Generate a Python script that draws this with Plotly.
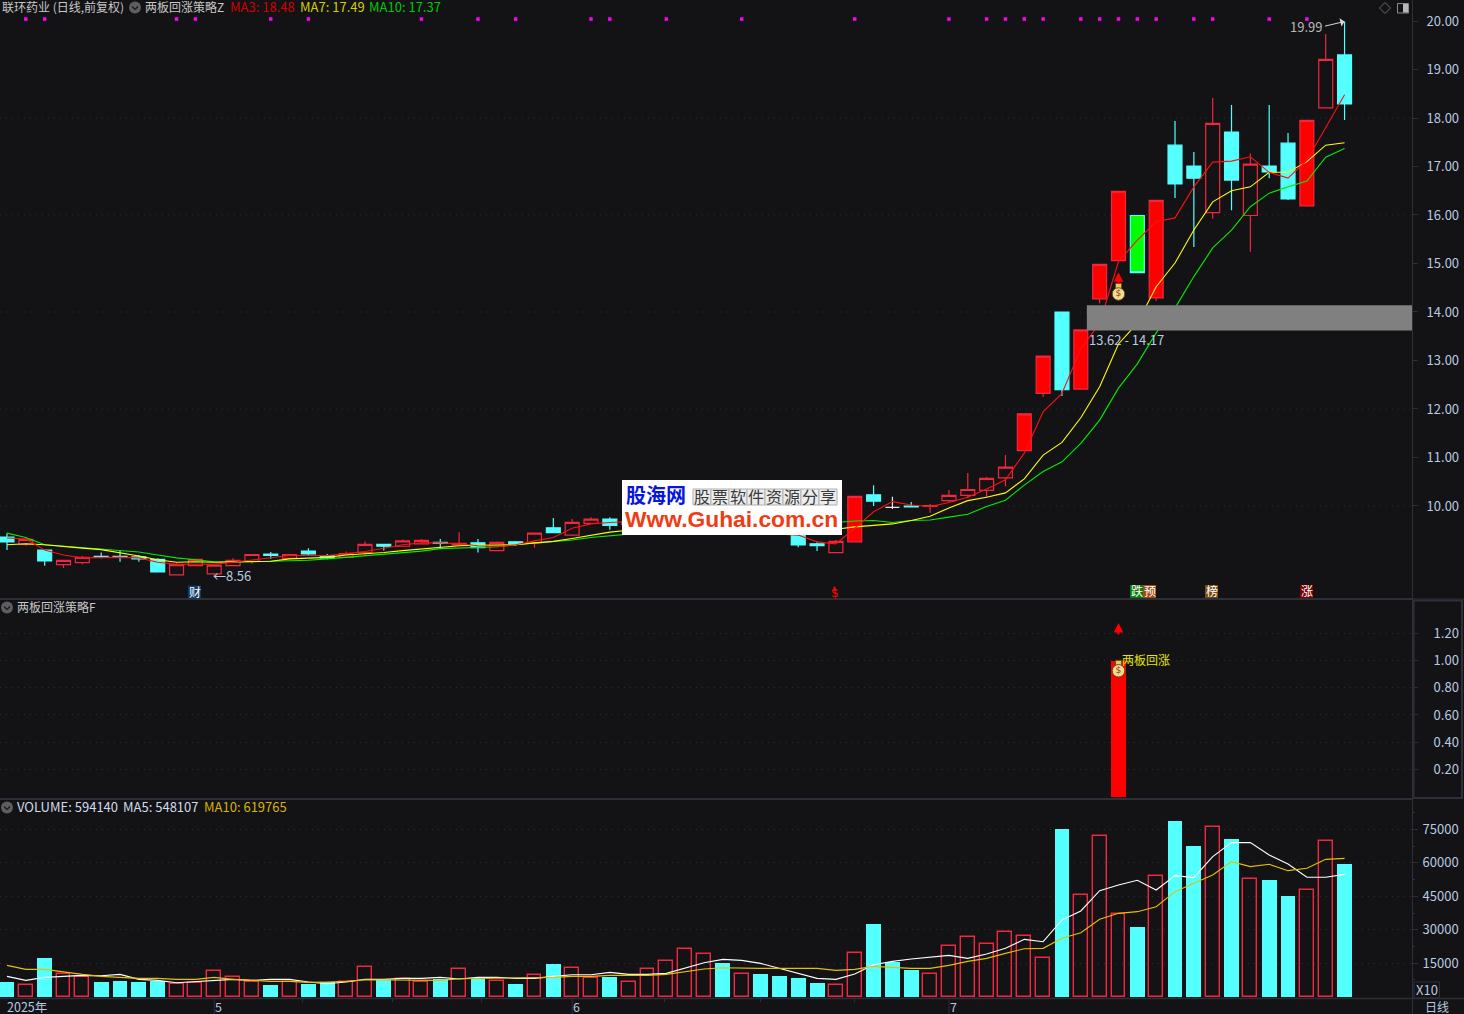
import plotly.graph_objects as go

# ---------- data ----------
opens  = [9.36,9.21,9.09,8.79,8.83,8.96,8.96,8.95,8.90,8.58,8.77,8.60,8.77,8.86,9.01,8.92,9.07,8.97,8.94,9.04,
          9.21,9.17,9.22,9.25,9.20,9.24,9.08,9.26,9.24,9.55,9.40,9.64,9.73,9.62,9.66,9.72,9.78,9.86,9.88,9.74,
          9.76,9.66,9.52,9.22,9.04,9.26,10.23,9.97,10.00,9.99,10.11,10.22,10.32,10.58,11.14,12.32,14.00,12.41,14.27,15.06,
          15.99,14.29,17.44,17.01,16.05,17.71,15.99,17.01,17.48,16.19,18.21,19.30]
highs  = [9.44,9.34,9.09,8.88,8.97,9.04,9.08,8.99,8.92,8.82,8.90,8.78,8.92,9.00,9.05,9.00,9.13,9.01,9.06,9.27,
          9.21,9.31,9.32,9.32,9.46,9.32,9.27,9.28,9.44,9.75,9.73,9.77,9.77,9.72,9.80,9.86,9.98,10.00,9.92,9.84,
          9.80,9.70,9.56,9.25,9.30,10.20,10.43,10.19,10.08,10.04,10.33,10.68,10.60,11.05,11.90,13.09,14.00,13.63,14.98,16.49,
          15.99,16.30,17.94,17.30,18.41,18.27,17.27,18.27,17.69,17.95,19.73,19.99]
lows   = [9.09,9.18,8.77,8.72,8.80,8.92,8.85,8.85,8.64,8.58,8.77,8.56,8.77,8.81,8.91,8.91,8.98,8.90,8.93,8.99,
          9.08,9.17,9.22,9.11,9.20,9.04,9.08,9.18,9.14,9.45,9.40,9.64,9.51,9.58,9.62,9.70,9.74,9.82,9.72,9.70,
          9.62,9.52,9.15,9.07,9.04,9.26,10.00,9.94,9.97,9.86,10.06,10.16,10.18,10.40,11.14,12.25,12.27,12.41,14.18,15.06,
          14.81,14.23,16.35,15.34,15.92,16.10,15.24,16.76,16.31,16.19,18.21,17.96]
closes = [9.26,9.31,8.87,8.88,8.94,8.94,8.95,8.91,8.64,8.79,8.90,8.78,8.88,9.00,8.98,9.00,9.01,8.93,9.02,9.21,
          9.17,9.28,9.29,9.23,9.23,9.14,9.25,9.22,9.44,9.45,9.66,9.73,9.60,9.68,9.74,9.80,9.90,9.92,9.76,9.78,
          9.66,9.58,9.20,9.18,9.27,10.20,10.10,9.97,9.98,10.01,10.22,10.34,10.57,10.80,11.90,13.09,12.40,13.63,14.98,16.49,
          14.81,16.30,16.64,16.76,17.89,16.72,17.05,16.89,16.33,17.95,19.21,18.29]
candle_styles = ["c","h","c","h","h","c","c","c","c","h","h","h","h","h","c","h","c","c","h","h",
                 "c","h","h","c","h","c","h","c","h","c","h","h","c","h","h","h","h","h","c","h",
                 "c","c","c","c","h","s","c","w","c","h","h","h","h","h","s","s","c","s","s","s",
                 "g","s","c","c","h","c","h","c","c","s","h","c"]
ma3  = [9.34,9.32,9.09,8.99,8.93,8.94,8.94,8.93,8.84,8.80,8.80,8.80,8.84,8.89,8.93,8.98,8.98,8.98,9.02,9.06,
        9.13,9.20,9.24,9.24,9.22,9.18,9.16,9.20,9.28,9.35,9.54,9.63,9.66,9.68,9.66,9.62,9.60,9.56,9.52,9.48,
        9.44,9.42,9.40,9.26,9.22,9.54,9.88,10.09,10.02,9.99,10.07,10.18,10.35,10.54,11.09,11.94,12.32,13.24,13.77,15.04,
        15.48,15.86,15.94,16.58,17.09,17.11,17.20,16.88,16.76,17.13,17.82,18.48]
ma7  = [9.20,9.22,9.20,9.16,9.13,9.10,9.04,8.97,8.89,8.84,8.85,8.84,8.85,8.85,8.86,8.91,8.93,8.94,8.99,9.01,
        9.04,9.08,9.11,9.15,9.18,9.19,9.19,9.20,9.24,9.27,9.33,9.39,9.46,9.50,9.52,9.54,9.56,9.57,9.57,9.56,
        9.55,9.54,9.52,9.52,9.52,9.57,9.60,9.63,9.70,9.79,9.96,10.11,10.18,10.27,10.56,11.05,11.31,11.82,12.46,13.34,
        13.77,14.52,15.01,15.69,16.27,16.50,16.58,16.88,16.88,17.10,17.44,17.49]
ma10 = [9.44,9.35,9.20,9.17,9.13,9.11,9.08,9.05,8.99,8.93,8.89,8.85,8.84,8.85,8.87,8.88,8.88,8.91,8.94,8.97,
        9.00,9.04,9.07,9.12,9.13,9.14,9.16,9.20,9.23,9.26,9.30,9.35,9.39,9.42,9.44,9.47,9.50,9.53,9.56,9.58,
        9.60,9.62,9.64,9.66,9.66,9.69,9.70,9.66,9.70,9.71,9.77,9.83,9.99,10.12,10.43,10.71,10.91,11.29,11.77,12.43,
        12.93,13.57,14.08,14.73,15.32,15.69,16.17,16.45,16.58,16.70,17.19,17.37]
volume = [6570,5080,17330,10010,8665,6570,7020,6570,7170,5530,5980,11350,8665,6420,5230,6720,5680,6420,6420,13150,
          7620,7920,6720,7770,12250,8070,6870,5680,9560,14640,12700,8220,8815,6420,12250,15840,21210,18970,15090,10010,
          10160,9260,8370,6125,5080,19420,32570,15540,11950,10010,22560,26590,23460,28830,27040,17180,75150,45420,71860,36900,
          31220,53930,78730,67530,75900,70670,52590,52290,45120,47660,69620,59414]
vol_falling = [1,0,1,0,0,1,1,1,1,0,0,0,0,0,1,0,1,1,0,0,
               1,0,0,1,0,1,0,1,0,1,0,0,1,0,0,0,0,0,1,0,
               1,1,1,1,0,0,1,1,1,0,0,0,0,0,0,0,1,0,0,0,
               1,0,1,1,0,1,0,1,1,0,0,1]
vol_ma5 = [9110,7320,8665,9260,9560,9410,10010,7770,7320,6275,6720,7320,7770,7320,7770,7770,6570,5830,6570,7770,
           7770,8220,8220,8665,7920,8665,8665,8220,8220,9110,9860,9860,10900,10010,10010,10460,12700,15240,16730,16280,
           14940,12700,10160,8220,7770,10160,14340,15840,16880,17780,18530,17180,19120,21660,25700,24650,34360,38400,47500,50050,
           52140,47800,54230,53340,62750,69020,69020,63500,59460,53490,53490,54811]
vol_ma10 = [14040,12250,12250,11060,10010,9110,8665,8220,8220,7770,7770,8665,7770,7320,6870,6870,6420,6570,6870,7620,
            7470,7320,7320,7320,8070,8220,8220,8220,8515,8665,9110,9110,9560,9560,9560,10010,11350,12400,13000,12700,
            12700,12700,12700,12700,11800,12250,13600,13150,12700,12700,14040,15840,17180,19420,21510,21660,26150,28680,34660,37350,
            38100,40340,47060,50800,54530,60500,58270,59310,56470,57520,61550,61977]
signal_idx = [59]
signal_val = [1.0]
dot_idx = [1,2,9,10,14,16,22,25,27,31,32,35,39,45,50,52,53,54,55,57,58,59,60,61,63,64,67,69]
dot_level = 20.04
y_ticks_price = [10,11,12,13,14,15,16,17,18,19,20]
grid_price = [10,12,14,16,18]
y_ticks_signal = [0.2,0.4,0.6,0.8,1.0,1.2]
y_ticks_vol = [15000,30000,45000,60000,75000]
month_idx = [-0.37,11,30,50]
month_labels = ["2025年","5","6","7"]
month_shift = [5,-1,-1,-1]
minor_date_ticks = [15.71,20.44,25.2,34.9,40.0,45.0]
zone_low, zone_high = 13.62, 14.14

# ---------- layout constants ----------
W, H = 1464, 1014
PLOT_R = 1412
BG = "#131215"
TXT = "#b8cbe0"
GRID = "#2c2e38"
FRAME = "#2e2f39"
RED = "#f0283f"
CYAN = "#54ffff"
FONT = "Noto Sans CJK SC"

def px(x): return x / W
def py(y): return 1 - y / H

X = list(range(len(opens)))
x_range = [-0.3716, 74.58]

fig = go.Figure()

def add_candles(style, line, fill):
    idx = [i for i in X if candle_styles[i] == style]
    side = dict(line=dict(color=line, width=1.2), fillcolor=fill)
    fig.add_trace(go.Candlestick(
        x=idx, open=[opens[i] for i in idx], high=[highs[i] for i in idx],
        low=[lows[i] for i in idx], close=[closes[i] for i in idx],
        increasing=side, decreasing=side, whiskerwidth=0, hoverinfo="skip",
        showlegend=False, xaxis="x", yaxis="y"))

add_candles("h", RED, "rgba(0,0,0,0)")
add_candles("s", RED, "#ff0000")
add_candles("c", CYAN, CYAN)
add_candles("g", CYAN, "#00ff00")
add_candles("w", "#e8e8e8", "#e8e8e8")

for vals, col in ((ma10, "#00ee00"), (ma7, "#ffff00"), (ma3, "#ff1010")):
    fig.add_trace(go.Scatter(x=X, y=vals, mode="lines", line=dict(color=col, width=1.1),
                             hoverinfo="skip", showlegend=False, xaxis="x", yaxis="y"))

fig.add_trace(go.Scatter(x=dot_idx, y=[dot_level] * len(dot_idx), mode="markers",
                         marker=dict(symbol="square", size=3.5, color="#ff00ff", line=dict(width=0)),
                         hoverinfo="skip", showlegend=False, xaxis="x", yaxis="y"))

def money_bag(x, y, knot, xa, ya):
    fig.add_trace(go.Scatter(x=[x], y=[knot], mode="markers",
                             marker=dict(symbol="square", size=6, color="#e8c860",
                                         line=dict(color="#6b4a20", width=1)),
                             hoverinfo="skip", showlegend=False, xaxis=xa, yaxis=ya))
    fig.add_trace(go.Scatter(x=[x], y=[y], mode="markers+text", text=["$"],
                             textposition="middle center",
                             textfont=dict(color="#8a3b2a", size=9, family="DejaVu Sans"),
                             marker=dict(symbol="circle", size=12.5, color="#f4dc8e",
                                         line=dict(color="#6b4a20", width=1)),
                             hoverinfo="skip", showlegend=False, xaxis=xa, yaxis=ya))

money_bag(59, 14.37, 14.53, "x", "y")

# signal panel
fig.add_trace(go.Bar(x=signal_idx, y=signal_val, width=0.78, marker=dict(color="#ff0000", line=dict(width=0)),
                     hoverinfo="skip", showlegend=False, xaxis="x2", yaxis="y2"))
money_bag(59, 0.925, 0.98, "x2", "y2")

# volume panel
fall_i = [i for i in X if vol_falling[i]]
rise_i = [i for i in X if not vol_falling[i]]
fig.add_trace(go.Bar(x=fall_i, y=[volume[i] for i in fall_i], width=0.79,
                     marker=dict(color=CYAN, line=dict(width=0)),
                     hoverinfo="skip", showlegend=False, xaxis="x3", yaxis="y3"))
fig.add_trace(go.Bar(x=rise_i, y=[volume[i] for i in rise_i], width=0.74,
                     marker=dict(color="rgba(0,0,0,0)", line=dict(color=RED, width=1.4)),
                     hoverinfo="skip", showlegend=False, xaxis="x3", yaxis="y3"))
for vals, col in ((vol_ma5, "#ffffff"), (vol_ma10, "#e6c000")):
    fig.add_trace(go.Scatter(x=X, y=vals, mode="lines", line=dict(color=col, width=1.1),
                             hoverinfo="skip", showlegend=False, xaxis="x3", yaxis="y3"))

shapes, annos = [], []

def paper_line(x0, y0, x1, y1, color=FRAME, width=1, layer="above"):
    shapes.append(dict(type="line", xref="paper", yref="paper", x0=px(x0), x1=px(x1),
                       y0=py(y0), y1=py(y1), line=dict(color=color, width=width), layer=layer))

def paper_rect(x0, y0, x1, y1, fill="rgba(0,0,0,0)", color=None, width=0, layer="above"):
    shapes.append(dict(type="rect", xref="paper", yref="paper", x0=px(x0), x1=px(x1),
                       y0=py(y0), y1=py(y1), fillcolor=fill,
                       line=dict(color=color or "rgba(0,0,0,0)", width=width), layer=layer))

def label(x, y, text, color=TXT, size=12, anchor="left", family=FONT):
    annos.append(dict(xref="paper", yref="paper", x=px(x), y=py(y - 1), text=text, showarrow=False,
                      xanchor=anchor, yanchor="middle", font=dict(color=color, size=size, family=family),
                      borderpad=0, borderwidth=0))

def tag(x0, y0, text, bg):
    paper_rect(x0, y0, x0 + 13, y0 + 13, fill=bg)
    label(x0 + 6.5, y0 + 6.5, text, "#ffffff", 12, "center")

def chevron_icon(cx, cy):
    shapes.append(dict(type="circle", xref="paper", yref="paper", x0=px(cx - 6), x1=px(cx + 6),
                       y0=py(cy - 6), y1=py(cy + 6), fillcolor="#5e5e62",
                       line=dict(width=0), layer="above"))
    paper_line(cx - 3, cy - 1, cx, cy + 2, "#1a1a1c", 1.3)
    paper_line(cx, cy + 2, cx + 3, cy - 1, "#1a1a1c", 1.3)

# grid in the price panel
for g in grid_price:
    shapes.append(dict(type="line", xref="x domain", yref="y", x0=0, x1=1, y0=g, y1=g,
                       line=dict(color=GRID, width=1, dash="1px,5px"), layer="below"))
# resistance zone
shapes.append(dict(type="rect", xref="x", yref="y", x0=57.32, x1=x_range[1], y0=zone_low, y1=zone_high,
                   fillcolor="#808080", line=dict(width=0), layer="above"))

# frames
paper_line(0, 599, PLOT_R, 599, FRAME, 2)
paper_line(0, 799, PLOT_R, 799, FRAME, 2)
paper_line(0, 998.5, W, 998.5, FRAME, 1.5)
paper_line(PLOT_R + 0.5, 0, PLOT_R + 0.5, H, FRAME, 1)
paper_line(PLOT_R, 599, W, 599, FRAME, 1)
paper_rect(1413.5, 600.5, 1462, 798, color=FRAME, width=2)
paper_rect(1414, 982, 1439.5, 998, color=FRAME, width=1)
label(1426.5, 990, "X10", size=13, anchor="center")
label(1437, 1007, "日线", size=12, anchor="center")

# date axis
for i, t, sh in zip(month_idx, month_labels, month_shift):
    if sh < 0:
        shapes.append(dict(type="line", xref="x3", yref="paper", x0=i, x1=i, y0=py(999), y1=py(1014),
                           line=dict(color=FRAME, width=1), layer="above"))
    annos.append(dict(xref="x3", yref="paper", x=i, y=py(1006), text=t, showarrow=False,
                      xanchor="left", yanchor="middle", xshift=sh,
                      font=dict(color=TXT, size=12.5, family=FONT)))

# headers
label(2, 7, "联环药业 (日线,前复权)", "#c8c8c8")
chevron_icon(135, 7.5)
label(145, 7, "两板回涨策略Z", "#c8c8c8")
label(230, 7, "MA3: 18.48", "#d00000", 13)
label(299.5, 7, "MA7: 17.49", "#d0d000", 13)
label(369, 7, "MA10: 17.37", "#00c800", 13)
chevron_icon(7, 607.5)
label(17, 607, "两板回涨策略F", "#c8c8c8")
chevron_icon(7, 807.5)
label(17, 807, "VOLUME: 594140", "#d0dcea", 13)
label(123, 807, "MA5: 548107", "#d0dcea", 13)
label(204, 807, "MA10: 619765", "#d8b400", 13)

# top-right icons
shapes.append(dict(type="path", xref="paper", yref="paper",
                   path=f"M {px(1385)} {py(2.5)} L {px(1390.5)} {py(8)} L {px(1385)} {py(13.5)} L {px(1379.5)} {py(8)} Z",
                   line=dict(color="#6a6a6a", width=1), fillcolor="rgba(0,0,0,0)", layer="above"))
paper_rect(1397.5, 3.5, 1408.5, 13, color="#8a8a8a", width=1)
paper_rect(1403, 4, 1408, 12.5, fill="#b8b8b8")

# chart notes
label(1089, 340, "13.62 - 14.17", TXT, 13)
label(213, 576, "←8.56", TXT, 13)
label(1290, 27, "19.99", "#b8b8b8", 13)
annos.append(dict(xref="x", yref="y", x=71, y=19.99, ax=-21, ay=5,
                  showarrow=True, arrowhead=1, arrowsize=1.4, arrowwidth=1, arrowcolor="#d8d8d8", text=""))
annos.append(dict(xref="x", yref="y", x=59, y=14.82, ax=0, ay=13, showarrow=True, arrowhead=2,
                  arrowsize=0.95, arrowwidth=2, arrowcolor="#ff0000", text=""))
annos.append(dict(xref="x2", yref="y2", x=59, y=1.277, ax=0, ay=13, showarrow=True, arrowhead=2,
                  arrowsize=0.95, arrowwidth=2, arrowcolor="#ff0000", text=""))
label(1122, 660, "两板回涨", "#e6e600")

# event tags
tag(188, 585.5, "财", "#0d3b66")
label(834.5, 594, "$", "#ff0000", 12, "center", "DejaVu Sans")
annos.append(dict(xref="paper", yref="paper", x=px(834.5), y=py(586), ax=0, ay=4, showarrow=True,
                  arrowhead=2, arrowsize=1, arrowwidth=1, arrowcolor="#ff0000", text=""))
tag(1130, 585, "跌", "#0a7a0a")
tag(1143, 585, "预", "#a04a10")
tag(1205, 585, "榜", "#7a4a10")
tag(1300, 585, "涨", "#7a0000")

# watermark
paper_rect(622, 480, 842, 535, fill="#ffffff")
label(626, 496, "<b>股海网</b>", "#0616e0", 20)
cell_chars = "股票软件资源分享"
for k, ch in enumerate(cell_chars):
    cx = 693 + 18 * k
    paper_rect(cx, 489, cx + 18, 505, fill="#ececec", color="#b0b0b0", width=1)
    label(cx + 9, 497, ch, "#3a3a3a", 16, "center")
label(625, 520, "<b>Www.Guhai.com.cn</b>", "#f03c12", 22.8, "left", "Liberation Sans")

axis_common = dict(zeroline=False, showline=False, fixedrange=True)
grid_on = dict(showgrid=True, gridcolor=GRID, griddash="1px,5px", gridwidth=1)

fig.update_layout(
    width=W, height=H, margin=dict(l=0, r=0, t=0, b=0), autosize=False,
    paper_bgcolor=BG, plot_bgcolor=BG, showlegend=False,
    boxmode="overlay", boxgap=0.26, boxgroupgap=0, barmode="overlay", bargap=0,
    font=dict(family=FONT, color=TXT, size=12),
    shapes=shapes, annotations=annos,
    xaxis=dict(domain=[0, PLOT_R / W], range=x_range, anchor="y", showticklabels=False, ticks="",
               showgrid=False, rangeslider=dict(visible=False), **axis_common),
    xaxis2=dict(domain=[0, PLOT_R / W], range=x_range, anchor="y2", showticklabels=False, ticks="",
                showgrid=False, **axis_common),
    xaxis3=dict(domain=[0, PLOT_R / W], range=x_range, anchor="y3", showticklabels=False, showgrid=False,
                ticks="outside", ticklen=3, tickcolor=FRAME, tickmode="array", tickvals=minor_date_ticks, **axis_common),
    yaxis=dict(domain=[py(599), 1], range=[8.082, 20.433], side="right", anchor="x", showgrid=False,
               tickmode="array", tickvals=y_ticks_price, tickformat=".2f",
               ticks="outside", ticklen=5, tickcolor=FRAME, ticklabelstandoff=6,
               tickfont=dict(size=13, color=TXT, family=FONT), **axis_common),
    yaxis2=dict(domain=[py(798), py(600)], range=[-0.011, 1.446], side="right", anchor="x2",
                tickmode="array", tickvals=y_ticks_signal, tickformat=".2f",
                ticks="outside", ticklen=5, tickcolor=FRAME, ticklabelstandoff=13,
                minor=dict(tickmode="array", tickvals=[0.1, 0.3, 0.5, 0.7, 0.9, 1.1, 1.3], ticks="outside", ticklen=2, tickcolor=FRAME),
                tickfont=dict(size=13, color=TXT, family=FONT), **grid_on, **axis_common),
    yaxis3=dict(domain=[py(998), py(800)], range=[-582, 88130], side="right", anchor="x3",
                tickmode="array", tickvals=y_ticks_vol, tickformat="d",
                ticks="outside", ticklen=5, tickcolor=FRAME, ticklabelstandoff=2,
                minor=dict(tickmode="array", tickvals=[7500, 22500, 37500, 52500, 67500, 82500], ticks="outside", ticklen=2, tickcolor=FRAME),
                tickfont=dict(size=13, color=TXT, family=FONT), **grid_on, **axis_common),
)

fig.write_html("out.html", config=dict(displayModeBar=False),
               post_script="document.body.style.margin='0';document.body.style.background='#131215';document.body.style.overflow='hidden';")
